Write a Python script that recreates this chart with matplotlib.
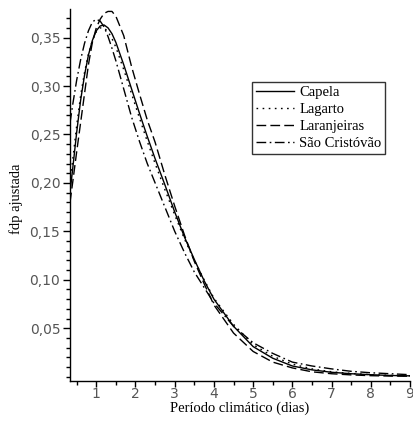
import matplotlib
matplotlib.use("Agg")
import matplotlib.pyplot as plt
from matplotlib.ticker import MultipleLocator, FuncFormatter

x = [0.33, 0.4, 0.5, 0.6, 0.7, 0.8, 0.9, 1.0, 1.1, 1.2, 1.3, 1.4, 1.5, 1.7, 1.9,
     2.1, 2.3, 2.5, 2.75, 3.0, 3.25, 3.5, 3.75, 4.0, 4.5, 5.0, 5.5, 6.0, 6.5,
     7.0, 7.5, 8.0, 8.5, 9.0]

capela = [0.190, 0.215, 0.252, 0.285, 0.311, 0.332, 0.347, 0.357, 0.362, 0.363,
          0.360, 0.354, 0.345, 0.322, 0.297, 0.272, 0.248, 0.225, 0.198, 0.170,
          0.144, 0.121, 0.099, 0.080, 0.052, 0.031, 0.019, 0.011, 0.007, 0.0045,
          0.003, 0.002, 0.0012, 0.0008]

lagarto = [0.200, 0.224, 0.259, 0.290, 0.314, 0.333, 0.347, 0.356, 0.360, 0.360,
           0.356, 0.349, 0.340, 0.317, 0.292, 0.267, 0.243, 0.220, 0.193, 0.167,
           0.142, 0.120, 0.100, 0.081, 0.054, 0.033, 0.021, 0.013, 0.008, 0.005,
           0.0033, 0.002, 0.0013, 0.0009]

laranjeiras = [0.180, 0.201, 0.232, 0.262, 0.292, 0.322, 0.345, 0.360, 0.369, 0.375,
               0.377, 0.377, 0.372, 0.352, 0.320, 0.292, 0.265, 0.242, 0.208, 0.176,
               0.146, 0.119, 0.096, 0.074, 0.045, 0.026, 0.015, 0.009, 0.005, 0.003,
               0.0018, 0.001, 0.0006, 0.0004]

sao_cristovao = [0.262, 0.281, 0.306, 0.327, 0.344, 0.357, 0.366, 0.369, 0.367, 0.361,
                 0.351, 0.339, 0.326, 0.297, 0.268, 0.243, 0.220, 0.200, 0.175, 0.150,
                 0.128, 0.108, 0.092, 0.076, 0.052, 0.035, 0.024, 0.015, 0.011, 0.008,
                 0.0055, 0.004, 0.003, 0.002]

labels = ["Capela", "Lagarto", "Laranjeiras", "São Cristóvão"]
x_ticks = [1, 2, 3, 4, 5, 6, 7, 8, 9]
y_ticks = [0.05, 0.10, 0.15, 0.20, 0.25, 0.30, 0.35]

W, H = 413, 421
fig = plt.figure(figsize=(W / 100, H / 100), dpi=100)
left, right, top, bottom = 70, 410, 9, 381
ax = fig.add_axes([left / W, 1 - bottom / H, (right - left) / W, (bottom - top) / H])

series = [capela, lagarto, laranjeiras, sao_cristovao]
dash_styles = [None, (1.2, 3.2), (7, 3), (7, 2.5, 1.2, 2.5)]
for vals, lab, ds in zip(series, labels, dash_styles):
    if ds is None:
        ax.plot(x, vals, color="black", lw=1.0, label=lab)
    else:
        ax.plot(x, vals, color="black", lw=1.0, label=lab, dashes=ds)

ax.set_xlim(0.33, 9.0)
ax.set_ylim(-0.0045, 0.3795)

for s in ["top", "right"]:
    ax.spines[s].set_visible(False)
for s in ["left", "bottom"]:
    ax.spines[s].set_linewidth(1.0)
    ax.spines[s].set_color("black")

ax.set_xticks(x_ticks)
ax.set_yticks(y_ticks)
ax.xaxis.set_minor_locator(MultipleLocator(0.5))
ax.yaxis.set_minor_locator(MultipleLocator(0.01))
ax.yaxis.set_major_formatter(FuncFormatter(lambda v, p: f"{v:.2f}".replace(".", ",")))
ax.xaxis.set_major_formatter(FuncFormatter(lambda v, p: f"{int(round(v))}"))

ax.tick_params(axis="y", which="major", direction="out", length=5, width=1,
               labelsize=10, labelcolor="#555555", color="black", pad=2)
ax.tick_params(axis="x", which="major", direction="out", length=4, width=1,
               labelsize=10, labelcolor="#555555", color="black", pad=0.5)
ax.tick_params(axis="both", which="minor", direction="out", length=3, width=1, color="black")
for t in ax.get_xticklabels() + ax.get_yticklabels():
    t.set_fontfamily("DejaVu Sans")

ax.set_xlabel("Período climático (dias)", fontfamily="Liberation Serif", fontsize=10.5)
ax.set_ylabel("fdp ajustada", fontfamily="Liberation Serif", fontsize=10.5)
ax.xaxis.set_label_coords(0.5, -0.072)
ax.xaxis.label.set_va("center")
ax.yaxis.set_label_coords(-0.158, 0.49)
ax.yaxis.label.set_va("center")

leg = ax.legend(loc="upper left", bbox_to_anchor=(252 / W, 1 - 82 / H),
                bbox_transform=fig.transFigure, frameon=True, fancybox=False,
                edgecolor="#333333", framealpha=1, borderpad=0.25, labelspacing=0.27,
                handlelength=2.6, handletextpad=0.4, borderaxespad=0,
                prop={"family": "Liberation Serif", "size": 10.5})
leg.get_frame().set_linewidth(1.0)

fig.savefig("out.png", dpi=100)
